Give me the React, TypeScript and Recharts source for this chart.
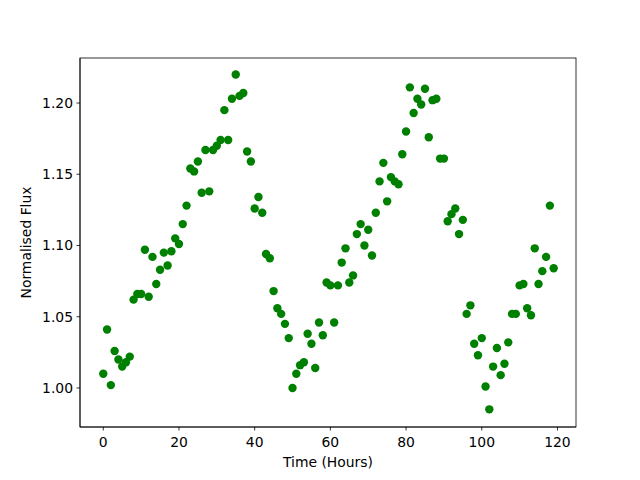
import * as React from "react"
import { ScatterChart, Scatter, XAxis, YAxis } from "recharts"

// hourly samples, 0..119
const fluxValues: number[] = [
  1.010, 1.041, 1.002, 1.026, 1.020, 1.015, 1.018, 1.022, 1.062, 1.066,
  1.066, 1.097, 1.064, 1.092, 1.073, 1.083, 1.095, 1.086, 1.096, 1.105,
  1.101, 1.115, 1.128, 1.154, 1.152, 1.159, 1.137, 1.167, 1.138, 1.167,
  1.170, 1.174, 1.195, 1.174, 1.203, 1.220, 1.205, 1.207, 1.166, 1.159,
  1.126, 1.134, 1.123, 1.094, 1.091, 1.068, 1.056, 1.052, 1.045, 1.035,
  1.000, 1.010, 1.016, 1.018, 1.038, 1.031, 1.014, 1.046, 1.037, 1.074,
  1.072, 1.046, 1.072, 1.088, 1.098, 1.074, 1.079, 1.108, 1.115, 1.100,
  1.111, 1.093, 1.123, 1.145, 1.158, 1.131, 1.148, 1.145, 1.143, 1.164,
  1.180, 1.211, 1.193, 1.203, 1.199, 1.210, 1.176, 1.202, 1.203, 1.161,
  1.161, 1.117, 1.122, 1.126, 1.108, 1.118, 1.052, 1.058, 1.031, 1.023,
  1.035, 1.001, 0.985, 1.015, 1.028, 1.009, 1.017, 1.032, 1.052, 1.052,
  1.072, 1.073, 1.056, 1.051, 1.098, 1.073, 1.082, 1.092, 1.128, 1.084,
]
const timeHours: number[] = fluxValues.map((_, i) => i)

const xTicks = [0, 20, 40, 60, 80, 100, 120]
const yTicks = [1.0, 1.05, 1.1, 1.15, 1.2]

const data = timeHours.map((t, i) => ({ time: t, flux: fluxValues[i] }))

const font = "DejaVu Sans, sans-serif"
const tickStyle = { fill: "#000", fontSize: 13.9, fontFamily: font }

const Dot = (props: any) => (
  <circle cx={props.cx} cy={props.cy} r={4.2} fill="#008000" />
)

export default function App() {
  return (
    <div style={{ position: "absolute", left: 0, top: 0, width: 640, height: 480, background: "#fff" }}>
      <ScatterChart
        width={640}
        height={480}
        margin={{ top: 58, right: 64, bottom: 0, left: 0 }}
      >
        <XAxis
          type="number"
          dataKey="time"
          domain={[-6.15, 124.9]}
          ticks={xTicks}
          allowDataOverflow
          height={53}
          stroke="#000"
          strokeWidth={0.8}
          tickSize={3.5}
          tickMargin={7}
          tick={tickStyle}
        />
        <YAxis
          type="number"
          dataKey="flux"
          domain={[0.9726, 1.2316]}
          ticks={yTicks}
          allowDataOverflow
          width={80}
          stroke="#000"
          strokeWidth={0.8}
          tickSize={3.5}
          tickMargin={3.5}
          tick={tickStyle}
          tickFormatter={(v: number) => v.toFixed(2)}
        />
        <Scatter data={data} shape={Dot} isAnimationActive={false} />
      </ScatterChart>
      <div style={{ position: "absolute", left: 0, top: 0, pointerEvents: "none" }}>
        <svg width={640} height={480}>
          <rect x={80} y={58} width={496} height={369} fill="none" stroke="#000" strokeWidth={0.8} />
          <text x={328} y={467} textAnchor="middle" fontFamily={font} fontSize={13.9} fill="#000">
            Time (Hours)
          </text>
          <text
            x={0}
            y={0}
            transform="translate(31,242.5) rotate(-90)"
            textAnchor="middle"
            fontFamily={font}
            fontSize={13.9}
            fill="#000"
          >
            Normalised Flux
          </text>
        </svg>
      </div>
    </div>
  )
}
